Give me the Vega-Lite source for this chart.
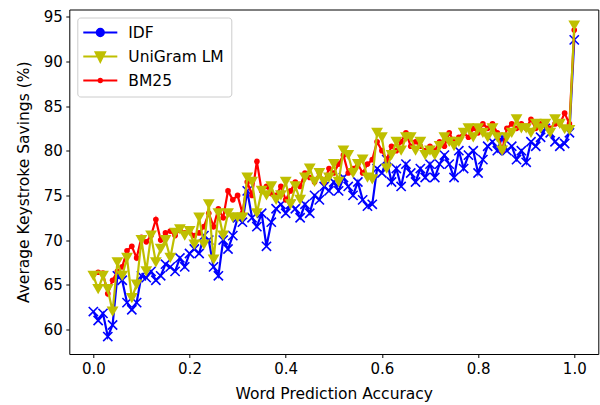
{
  "$schema": "https://vega.github.io/schema/vega-lite/v6.json",
  "width": 529,
  "height": 344.5,
  "autosize": "none",
  "padding": {"left": 69.3, "top": 9.5, "right": 1.7, "bottom": 51},
  "background": "white",
  "data": {
    "values": [
      {"acc": 0.00, "IDF": 62.0, "UniGram LM": 66.0, "BM25": 66.2},
      {"acc": 0.01, "IDF": 61.0, "UniGram LM": 64.5, "BM25": 66.4},
      {"acc": 0.02, "IDF": 61.8, "UniGram LM": 66.0, "BM25": 66.3},
      {"acc": 0.03, "IDF": 59.2, "UniGram LM": 64.5, "BM25": 64.0},
      {"acc": 0.04, "IDF": 60.5, "UniGram LM": 62.0, "BM25": 65.5},
      {"acc": 0.05, "IDF": 66.0, "UniGram LM": 67.5, "BM25": 66.5},
      {"acc": 0.06, "IDF": 65.5, "UniGram LM": 66.0, "BM25": 67.0},
      {"acc": 0.07, "IDF": 63.0, "UniGram LM": 68.0, "BM25": 68.8},
      {"acc": 0.08, "IDF": 62.2, "UniGram LM": 63.5, "BM25": 69.3},
      {"acc": 0.09, "IDF": 63.0, "UniGram LM": 65.0, "BM25": 68.0},
      {"acc": 0.10, "IDF": 66.0, "UniGram LM": 70.0, "BM25": 70.3},
      {"acc": 0.11, "IDF": 65.8, "UniGram LM": 66.5, "BM25": 69.8},
      {"acc": 0.12, "IDF": 66.5, "UniGram LM": 70.5, "BM25": 70.5},
      {"acc": 0.13, "IDF": 65.5, "UniGram LM": 67.5, "BM25": 72.3},
      {"acc": 0.14, "IDF": 66.0, "UniGram LM": 69.0, "BM25": 70.0},
      {"acc": 0.15, "IDF": 67.3, "UniGram LM": 70.0, "BM25": 70.8},
      {"acc": 0.16, "IDF": 67.0, "UniGram LM": 68.0, "BM25": 71.0},
      {"acc": 0.17, "IDF": 66.5, "UniGram LM": 70.8, "BM25": 70.5},
      {"acc": 0.18, "IDF": 68.0, "UniGram LM": 71.2, "BM25": 71.2},
      {"acc": 0.19, "IDF": 67.0, "UniGram LM": 70.5, "BM25": 70.8},
      {"acc": 0.20, "IDF": 68.5, "UniGram LM": 71.0, "BM25": 71.0},
      {"acc": 0.21, "IDF": 69.0, "UniGram LM": 69.5, "BM25": 70.5},
      {"acc": 0.22, "IDF": 68.5, "UniGram LM": 72.5, "BM25": 70.8},
      {"acc": 0.23, "IDF": 70.5, "UniGram LM": 69.5, "BM25": 71.5},
      {"acc": 0.24, "IDF": 70.0, "UniGram LM": 74.0, "BM25": 73.0},
      {"acc": 0.25, "IDF": 67.0, "UniGram LM": 67.8, "BM25": 71.5},
      {"acc": 0.26, "IDF": 66.0, "UniGram LM": 73.0, "BM25": 73.5},
      {"acc": 0.27, "IDF": 70.0, "UniGram LM": 70.5, "BM25": 72.5},
      {"acc": 0.28, "IDF": 69.0, "UniGram LM": 73.0, "BM25": 75.5},
      {"acc": 0.29, "IDF": 70.5, "UniGram LM": 72.5, "BM25": 74.5},
      {"acc": 0.30, "IDF": 72.5, "UniGram LM": 72.5, "BM25": 75.0},
      {"acc": 0.31, "IDF": 72.0, "UniGram LM": 72.5, "BM25": 73.0},
      {"acc": 0.32, "IDF": 75.5, "UniGram LM": 77.0, "BM25": 76.5},
      {"acc": 0.33, "IDF": 72.5, "UniGram LM": 76.5, "BM25": 75.0},
      {"acc": 0.34, "IDF": 71.5, "UniGram LM": 73.0, "BM25": 78.8},
      {"acc": 0.35, "IDF": 73.0, "UniGram LM": 75.5, "BM25": 75.5},
      {"acc": 0.36, "IDF": 69.3, "UniGram LM": 75.0, "BM25": 76.0},
      {"acc": 0.37, "IDF": 72.0, "UniGram LM": 76.0, "BM25": 75.2},
      {"acc": 0.38, "IDF": 73.5, "UniGram LM": 74.5, "BM25": 75.0},
      {"acc": 0.39, "IDF": 74.0, "UniGram LM": 75.0, "BM25": 76.0},
      {"acc": 0.40, "IDF": 73.0, "UniGram LM": 76.5, "BM25": 74.5},
      {"acc": 0.41, "IDF": 74.0, "UniGram LM": 74.0, "BM25": 75.5},
      {"acc": 0.42, "IDF": 73.5, "UniGram LM": 76.0, "BM25": 76.5},
      {"acc": 0.43, "IDF": 72.5, "UniGram LM": 74.5, "BM25": 76.0},
      {"acc": 0.44, "IDF": 74.0, "UniGram LM": 77.0, "BM25": 77.5},
      {"acc": 0.45, "IDF": 73.0, "UniGram LM": 78.0, "BM25": 77.0},
      {"acc": 0.46, "IDF": 75.0, "UniGram LM": 76.5, "BM25": 76.5},
      {"acc": 0.47, "IDF": 74.5, "UniGram LM": 77.5, "BM25": 77.5},
      {"acc": 0.48, "IDF": 76.0, "UniGram LM": 76.5, "BM25": 76.5},
      {"acc": 0.49, "IDF": 75.5, "UniGram LM": 77.0, "BM25": 78.0},
      {"acc": 0.50, "IDF": 76.5, "UniGram LM": 78.5, "BM25": 77.5},
      {"acc": 0.51, "IDF": 75.5, "UniGram LM": 76.5, "BM25": 78.5},
      {"acc": 0.52, "IDF": 77.0, "UniGram LM": 80.0, "BM25": 79.5},
      {"acc": 0.53, "IDF": 76.0, "UniGram LM": 79.5, "BM25": 77.5},
      {"acc": 0.54, "IDF": 75.0, "UniGram LM": 77.5, "BM25": 78.0},
      {"acc": 0.55, "IDF": 76.5, "UniGram LM": 78.5, "BM25": 78.5},
      {"acc": 0.56, "IDF": 74.5, "UniGram LM": 79.0, "BM25": 77.5},
      {"acc": 0.57, "IDF": 73.8, "UniGram LM": 77.0, "BM25": 78.5},
      {"acc": 0.58, "IDF": 74.0, "UniGram LM": 76.8, "BM25": 79.0},
      {"acc": 0.59, "IDF": 78.0, "UniGram LM": 82.0, "BM25": 81.0},
      {"acc": 0.60, "IDF": 77.5, "UniGram LM": 81.5, "BM25": 80.0},
      {"acc": 0.61, "IDF": 79.0, "UniGram LM": 78.0, "BM25": 79.0},
      {"acc": 0.62, "IDF": 76.5, "UniGram LM": 79.5, "BM25": 80.5},
      {"acc": 0.63, "IDF": 78.0, "UniGram LM": 81.0, "BM25": 80.0},
      {"acc": 0.64, "IDF": 76.0, "UniGram LM": 80.0, "BM25": 81.0},
      {"acc": 0.65, "IDF": 78.5, "UniGram LM": 81.5, "BM25": 82.0},
      {"acc": 0.66, "IDF": 77.5, "UniGram LM": 81.5, "BM25": 80.5},
      {"acc": 0.67, "IDF": 76.5, "UniGram LM": 80.0, "BM25": 81.0},
      {"acc": 0.68, "IDF": 78.0, "UniGram LM": 81.0, "BM25": 80.5},
      {"acc": 0.69, "IDF": 77.0, "UniGram LM": 79.5, "BM25": 80.0},
      {"acc": 0.70, "IDF": 78.5, "UniGram LM": 80.0, "BM25": 80.5},
      {"acc": 0.71, "IDF": 77.0, "UniGram LM": 79.5, "BM25": 80.0},
      {"acc": 0.72, "IDF": 78.5, "UniGram LM": 80.5, "BM25": 81.0},
      {"acc": 0.73, "IDF": 79.5, "UniGram LM": 81.5, "BM25": 80.5},
      {"acc": 0.74, "IDF": 78.5, "UniGram LM": 81.0, "BM25": 82.0},
      {"acc": 0.75, "IDF": 77.0, "UniGram LM": 80.5, "BM25": 81.0},
      {"acc": 0.76, "IDF": 80.0, "UniGram LM": 81.0, "BM25": 81.5},
      {"acc": 0.77, "IDF": 78.0, "UniGram LM": 82.0, "BM25": 82.0},
      {"acc": 0.78, "IDF": 79.5, "UniGram LM": 82.5, "BM25": 81.5},
      {"acc": 0.79, "IDF": 80.0, "UniGram LM": 81.5, "BM25": 82.5},
      {"acc": 0.80, "IDF": 77.5, "UniGram LM": 82.5, "BM25": 82.0},
      {"acc": 0.81, "IDF": 79.0, "UniGram LM": 82.0, "BM25": 83.0},
      {"acc": 0.82, "IDF": 80.5, "UniGram LM": 81.5, "BM25": 82.5},
      {"acc": 0.83, "IDF": 81.0, "UniGram LM": 82.5, "BM25": 83.0},
      {"acc": 0.84, "IDF": 80.0, "UniGram LM": 81.5, "BM25": 82.0},
      {"acc": 0.85, "IDF": 81.5, "UniGram LM": 80.0, "BM25": 80.0},
      {"acc": 0.86, "IDF": 80.0, "UniGram LM": 81.5, "BM25": 82.5},
      {"acc": 0.87, "IDF": 80.5, "UniGram LM": 82.0, "BM25": 83.0},
      {"acc": 0.88, "IDF": 79.0, "UniGram LM": 83.5, "BM25": 82.5},
      {"acc": 0.89, "IDF": 80.0, "UniGram LM": 82.5, "BM25": 83.0},
      {"acc": 0.90, "IDF": 78.7, "UniGram LM": 82.5, "BM25": 82.5},
      {"acc": 0.91, "IDF": 81.0, "UniGram LM": 82.0, "BM25": 83.5},
      {"acc": 0.92, "IDF": 80.5, "UniGram LM": 83.0, "BM25": 82.5},
      {"acc": 0.93, "IDF": 81.5, "UniGram LM": 82.5, "BM25": 83.0},
      {"acc": 0.94, "IDF": 82.5, "UniGram LM": 83.0, "BM25": 83.0},
      {"acc": 0.95, "IDF": 82.0, "UniGram LM": 82.0, "BM25": 82.5},
      {"acc": 0.96, "IDF": 81.0, "UniGram LM": 83.5, "BM25": 83.0},
      {"acc": 0.97, "IDF": 80.5, "UniGram LM": 83.0, "BM25": 83.0},
      {"acc": 0.98, "IDF": 80.8, "UniGram LM": 82.4, "BM25": 84.2},
      {"acc": 0.99, "IDF": 82.0, "UniGram LM": 82.3, "BM25": 83.0},
      {"acc": 1.00, "IDF": 92.4, "UniGram LM": 94.0, "BM25": 93.5}
    ]
  },
  "transform": [
    {"fold": ["IDF", "UniGram LM", "BM25"], "as": ["series", "saving"]}
  ],
  "encoding": {
    "x": {
      "field": "acc",
      "type": "quantitative",
      "scale": {"domain": [-0.05, 1.05], "nice": false, "zero": false},
      "axis": {"title": "Word Prediction Accuracy", "values": [0, 0.2, 0.4, 0.6, 0.8, 1.0], "format": ".1f"}
    },
    "y": {
      "field": "saving",
      "type": "quantitative",
      "scale": {"domain": [57.25, 95.8], "nice": false, "zero": false},
      "axis": {"title": "Average Keystroke Savings (%)", "values": [60, 65, 70, 75, 80, 85, 90, 95]}
    },
    "color": {
      "field": "series",
      "type": "nominal",
      "scale": {"domain": ["IDF", "UniGram LM", "BM25"], "range": ["#0000ff", "#bfbf00", "#ff0000"]},
      "legend": {
        "title": null,
        "orient": "top-left",
        "offset": 8,
        "padding": 7,
        "symbolSize": 196,
        "symbolStrokeWidth": 2,
        "symbolOffset": 8,
        "labelOffset": 20,
        "rowPadding": 6,
        "labelFontSize": 15.5,
        "labelFont": "DejaVu Sans",
        "labelColor": "black",
        "strokeColor": "#cccccc",
        "fillColor": "rgba(255,255,255,0.8)",
        "cornerRadius": 3,
        "encode": {
          "symbols": {
            "update": {
              "shape": {"signal": "datum.value === 'IDF' ? 'M-2.43,0L2.43,0M-0.52,0A0.52,0.52 0 1,1 0.52,0A0.52,0.52 0 1,1 -0.52,0Z' : datum.value === 'UniGram LM' ? 'M-2.43,0L2.43,0M-0.68,-0.62L0.68,-0.62L0,0.76Z' : 'M-2.43,0L2.43,0M-0.24,0A0.24,0.24 0 1,1 0.24,0A0.24,0.24 0 1,1 -0.24,0Z'"},
              "size": {"value": 196},
              "fill": {"scale": "color", "field": "value"},
              "stroke": {"scale": "color", "field": "value"},
              "strokeWidth": {"value": 2},
              "opacity": {"value": 1},
              "fillOpacity": {"value": 1},
              "strokeOpacity": {"value": 1}
            }
          }
        }
      }
    }
  },
  "layer": [
    {
      "transform": [{"filter": "datum.series === 'IDF'"}],
      "mark": {"type": "line", "strokeWidth": 2.2}
    },
    {
      "transform": [{"filter": "datum.series === 'IDF'"}],
      "mark": {"type": "point", "shape": "M-1,-1L1,1M-1,1L1,-1", "filled": false, "size": 85, "strokeWidth": 1.6, "opacity": 1}
    },
    {
      "transform": [{"filter": "datum.series === 'BM25'"}],
      "mark": {"type": "line", "strokeWidth": 2.2}
    },
    {
      "transform": [{"filter": "datum.series === 'BM25'"}],
      "mark": {"type": "point", "shape": "circle", "filled": true, "size": 32, "opacity": 1}
    },
    {
      "transform": [{"filter": "datum.series === 'UniGram LM'"}],
      "mark": {"type": "line", "strokeWidth": 2.2}
    },
    {
      "transform": [{"filter": "datum.series === 'UniGram LM'"}],
      "mark": {"type": "point", "shape": "triangle-down", "filled": true, "size": 140, "opacity": 1}
    }
  ],
  "config": {
    "font": "DejaVu Sans",
    "view": {"stroke": "black", "strokeWidth": 1},
    "axis": {
      "domain": false,
      "grid": false,
      "ticks": true,
      "tickColor": "black",
      "tickSize": 3.5,
      "tickWidth": 1,
      "labelFont": "DejaVu Sans",
      "labelFontSize": 15,
      "labelColor": "black",
      "labelPadding": 3.5,
      "titleFont": "DejaVu Sans",
      "titleFontSize": 15.5,
      "titleFontWeight": "normal",
      "titleColor": "black"
    },
    "axisX": {"titlePadding": 10},
    "axisY": {"titlePadding": 12}
  }
}
